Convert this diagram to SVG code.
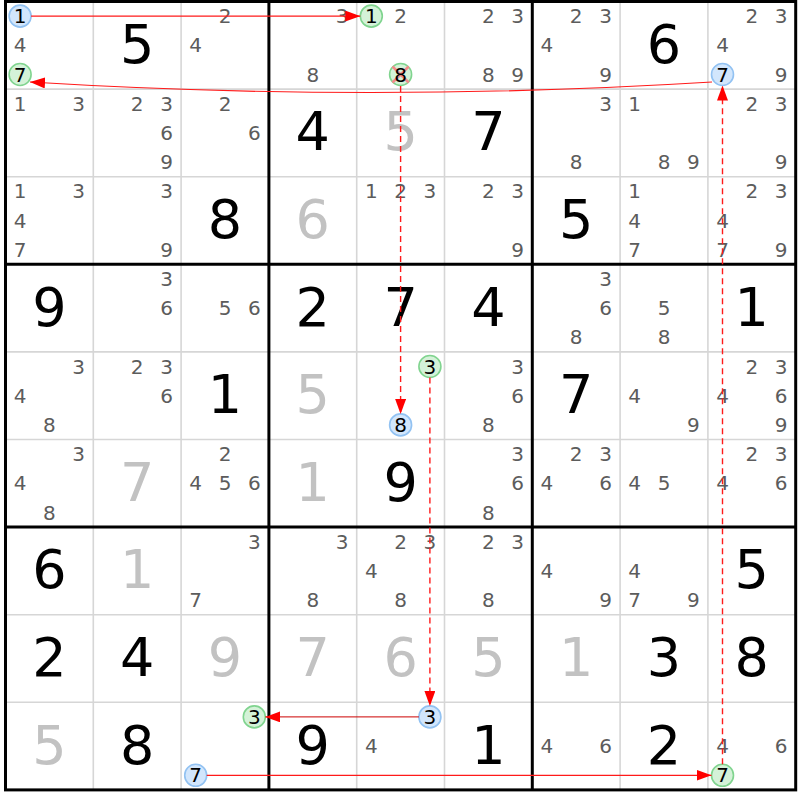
<svg xmlns="http://www.w3.org/2000/svg" width="800" height="800" viewBox="0 0 800 800">
<style>
text{font-family:"DejaVu Sans","Liberation Sans",sans-serif;text-anchor:middle}
.c{font-size:20px;fill:#5c5c5c}
.k{font-size:20px;fill:#000}
.g{font-size:54px;fill:#000}
.s{font-size:54px;fill:#c2c2c2}
.thin{stroke:#d6d6d6;stroke-width:1.6}
.thick{stroke:#000;stroke-width:3}
.hb{fill:#d2e6fc;stroke:#92c2f2;stroke-width:1.6}
.hg{fill:#d4f2d8;stroke:#80d48f;stroke-width:1.6}
.ln{stroke:#ff1a1a;stroke-width:1.2;fill:none}
.dl{stroke:#ff1a1a;stroke-width:1.4;fill:none;stroke-dasharray:6,4}
</style>
<defs>
<marker id="ah" markerUnits="userSpaceOnUse" markerWidth="15" markerHeight="11" refX="15" refY="5.5" orient="auto">
<path d="M0,0 L15,5.5 L0,11 z" fill="#ff0000"/>
</marker>
</defs>
<rect x="0" y="0" width="800" height="800" fill="#fff"/>
<g id="grid">
<line class="thin" x1="93.3" y1="1.5" x2="93.3" y2="789.9"/>
<line class="thin" x1="181.1" y1="1.5" x2="181.1" y2="789.9"/>
<line class="thin" x1="356.7" y1="1.5" x2="356.7" y2="789.9"/>
<line class="thin" x1="444.5" y1="1.5" x2="444.5" y2="789.9"/>
<line class="thin" x1="620.1" y1="1.5" x2="620.1" y2="789.9"/>
<line class="thin" x1="707.9" y1="1.5" x2="707.9" y2="789.9"/>
<line class="thin" x1="5.5" y1="89.1" x2="795.7" y2="89.1"/>
<line class="thin" x1="5.5" y1="176.7" x2="795.7" y2="176.7"/>
<line class="thin" x1="5.5" y1="351.9" x2="795.7" y2="351.9"/>
<line class="thin" x1="5.5" y1="439.5" x2="795.7" y2="439.5"/>
<line class="thin" x1="5.5" y1="614.7" x2="795.7" y2="614.7"/>
<line class="thin" x1="5.5" y1="702.3" x2="795.7" y2="702.3"/>
<line class="thick" x1="268.9" y1="1.5" x2="268.9" y2="789.9"/>
<line class="thick" x1="532.3" y1="1.5" x2="532.3" y2="789.9"/>
<line class="thick" x1="5.5" y1="264.3" x2="795.7" y2="264.3"/>
<line class="thick" x1="5.5" y1="527.1" x2="795.7" y2="527.1"/>
<rect class="thick" x="5.5" y="1.5" width="790.2" height="788.4" fill="none"/>
</g>
<!-- Row 1 -->
<g id="r1c1"><circle class="hb" cx="20.1" cy="16.1" r="11"/><circle class="hg" cx="20.1" cy="74.5" r="11"/><text class="k" x="20.1" y="23.1">1</text><text class="c" x="20.1" y="52.3">4</text><text class="k" x="20.1" y="81.5">7</text></g>
<g id="r1c2"><text class="g" x="137.2" y="62.8">5</text></g>
<g id="r1c3"><text class="c" x="225" y="23.1">2</text><text class="c" x="195.7" y="52.3">4</text></g>
<g id="r1c4"><text class="c" x="342.1" y="23.1">3</text><text class="c" x="312.8" y="81.5">8</text></g>
<g id="r1c5"><circle class="hg" cx="371.3" cy="16.1" r="11"/><circle class="hg" cx="400.6" cy="74.5" r="11"/><path d="M392.5,66.5 L408.7,82.5 M408.7,66.5 L392.5,82.5" stroke="#f28a8a" stroke-width="2.5"/><text class="k" x="371.3" y="23.1">1</text><text class="c" x="400.6" y="23.1">2</text><text class="k" x="400.6" y="81.5">8</text></g>
<g id="r1c6"><text class="c" x="488.4" y="23.1">2</text><text class="c" x="517.7" y="23.1">3</text><text class="c" x="488.4" y="81.5">8</text><text class="c" x="517.7" y="81.5">9</text></g>
<g id="r1c7"><text class="c" x="576.2" y="23.1">2</text><text class="c" x="605.5" y="23.1">3</text><text class="c" x="546.9" y="52.3">4</text><text class="c" x="605.5" y="81.5">9</text></g>
<g id="r1c8"><text class="g" x="664" y="62.8">6</text></g>
<g id="r1c9"><circle class="hb" cx="722.5" cy="74.5" r="11"/><text class="c" x="751.8" y="23.1">2</text><text class="c" x="781.1" y="23.1">3</text><text class="c" x="722.5" y="52.3">4</text><text class="k" x="722.5" y="81.5">7</text><text class="c" x="781.1" y="81.5">9</text></g>
<!-- Row 2 -->
<g id="r2c1"><text class="c" x="20.1" y="110.7">1</text><text class="c" x="78.7" y="110.7">3</text></g>
<g id="r2c2"><text class="c" x="137.2" y="110.7">2</text><text class="c" x="166.5" y="110.7">3</text><text class="c" x="166.5" y="139.9">6</text><text class="c" x="166.5" y="169.1">9</text></g>
<g id="r2c3"><text class="c" x="225" y="110.7">2</text><text class="c" x="254.3" y="139.9">6</text></g>
<g id="r2c4"><text class="g" x="312.8" y="150.4">4</text></g>
<g id="r2c5"><text class="s" x="400.6" y="150.4">5</text></g>
<g id="r2c6"><text class="g" x="488.4" y="150.4">7</text></g>
<g id="r2c7"><text class="c" x="605.5" y="110.7">3</text><text class="c" x="576.2" y="169.1">8</text></g>
<g id="r2c8"><text class="c" x="634.7" y="110.7">1</text><text class="c" x="664" y="169.1">8</text><text class="c" x="693.3" y="169.1">9</text></g>
<g id="r2c9"><text class="c" x="751.8" y="110.7">2</text><text class="c" x="781.1" y="110.7">3</text><text class="c" x="781.1" y="169.1">9</text></g>
<!-- Row 3 -->
<g id="r3c1"><text class="c" x="20.1" y="198.3">1</text><text class="c" x="78.7" y="198.3">3</text><text class="c" x="20.1" y="227.5">4</text><text class="c" x="20.1" y="256.7">7</text></g>
<g id="r3c2"><text class="c" x="166.5" y="198.3">3</text><text class="c" x="166.5" y="256.7">9</text></g>
<g id="r3c3"><text class="g" x="225" y="238">8</text></g>
<g id="r3c4"><text class="s" x="312.8" y="238">6</text></g>
<g id="r3c5"><text class="c" x="371.3" y="198.3">1</text><text class="c" x="400.6" y="198.3">2</text><text class="c" x="429.9" y="198.3">3</text></g>
<g id="r3c6"><text class="c" x="488.4" y="198.3">2</text><text class="c" x="517.7" y="198.3">3</text><text class="c" x="517.7" y="256.7">9</text></g>
<g id="r3c7"><text class="g" x="576.2" y="238">5</text></g>
<g id="r3c8"><text class="c" x="634.7" y="198.3">1</text><text class="c" x="634.7" y="227.5">4</text><text class="c" x="634.7" y="256.7">7</text></g>
<g id="r3c9"><text class="c" x="751.8" y="198.3">2</text><text class="c" x="781.1" y="198.3">3</text><text class="c" x="722.5" y="227.5">4</text><text class="c" x="722.5" y="256.7">7</text><text class="c" x="781.1" y="256.7">9</text></g>
<!-- Row 4 -->
<g id="r4c1"><text class="g" x="49.4" y="325.6">9</text></g>
<g id="r4c2"><text class="c" x="166.5" y="285.9">3</text><text class="c" x="166.5" y="315.1">6</text></g>
<g id="r4c3"><text class="c" x="225" y="315.1">5</text><text class="c" x="254.3" y="315.1">6</text></g>
<g id="r4c4"><text class="g" x="312.8" y="325.6">2</text></g>
<g id="r4c5"><text class="g" x="400.6" y="325.6">7</text></g>
<g id="r4c6"><text class="g" x="488.4" y="325.6">4</text></g>
<g id="r4c7"><text class="c" x="605.5" y="285.9">3</text><text class="c" x="605.5" y="315.1">6</text><text class="c" x="576.2" y="344.3">8</text></g>
<g id="r4c8"><text class="c" x="664" y="315.1">5</text><text class="c" x="664" y="344.3">8</text></g>
<g id="r4c9"><text class="g" x="751.8" y="325.6">1</text></g>
<!-- Row 5 -->
<g id="r5c1"><text class="c" x="78.7" y="373.5">3</text><text class="c" x="20.1" y="402.7">4</text><text class="c" x="49.4" y="431.9">8</text></g>
<g id="r5c2"><text class="c" x="137.2" y="373.5">2</text><text class="c" x="166.5" y="373.5">3</text><text class="c" x="166.5" y="402.7">6</text></g>
<g id="r5c3"><text class="g" x="225" y="413.2">1</text></g>
<g id="r5c4"><text class="s" x="312.8" y="413.2">5</text></g>
<g id="r5c5"><circle class="hg" cx="429.9" cy="366.5" r="11"/><circle class="hb" cx="400.6" cy="424.9" r="11"/><text class="k" x="429.9" y="373.5">3</text><text class="k" x="400.6" y="431.9">8</text></g>
<g id="r5c6"><text class="c" x="517.7" y="373.5">3</text><text class="c" x="517.7" y="402.7">6</text><text class="c" x="488.4" y="431.9">8</text></g>
<g id="r5c7"><text class="g" x="576.2" y="413.2">7</text></g>
<g id="r5c8"><text class="c" x="634.7" y="402.7">4</text><text class="c" x="693.3" y="431.9">9</text></g>
<g id="r5c9"><text class="c" x="751.8" y="373.5">2</text><text class="c" x="781.1" y="373.5">3</text><text class="c" x="722.5" y="402.7">4</text><text class="c" x="781.1" y="402.7">6</text><text class="c" x="781.1" y="431.9">9</text></g>
<!-- Row 6 -->
<g id="r6c1"><text class="c" x="78.7" y="461.1">3</text><text class="c" x="20.1" y="490.3">4</text><text class="c" x="49.4" y="519.5">8</text></g>
<g id="r6c2"><text class="s" x="137.2" y="500.8">7</text></g>
<g id="r6c3"><text class="c" x="225" y="461.1">2</text><text class="c" x="195.7" y="490.3">4</text><text class="c" x="225" y="490.3">5</text><text class="c" x="254.3" y="490.3">6</text></g>
<g id="r6c4"><text class="s" x="312.8" y="500.8">1</text></g>
<g id="r6c5"><text class="g" x="400.6" y="500.8">9</text></g>
<g id="r6c6"><text class="c" x="517.7" y="461.1">3</text><text class="c" x="517.7" y="490.3">6</text><text class="c" x="488.4" y="519.5">8</text></g>
<g id="r6c7"><text class="c" x="576.2" y="461.1">2</text><text class="c" x="605.5" y="461.1">3</text><text class="c" x="546.9" y="490.3">4</text><text class="c" x="605.5" y="490.3">6</text></g>
<g id="r6c8"><text class="c" x="634.7" y="490.3">4</text><text class="c" x="664" y="490.3">5</text></g>
<g id="r6c9"><text class="c" x="751.8" y="461.1">2</text><text class="c" x="781.1" y="461.1">3</text><text class="c" x="722.5" y="490.3">4</text><text class="c" x="781.1" y="490.3">6</text></g>
<!-- Row 7 -->
<g id="r7c1"><text class="g" x="49.4" y="588.4">6</text></g>
<g id="r7c2"><text class="s" x="137.2" y="588.4">1</text></g>
<g id="r7c3"><text class="c" x="254.3" y="548.7">3</text><text class="c" x="195.7" y="607.1">7</text></g>
<g id="r7c4"><text class="c" x="342.1" y="548.7">3</text><text class="c" x="312.8" y="607.1">8</text></g>
<g id="r7c5"><text class="c" x="400.6" y="548.7">2</text><text class="c" x="429.9" y="548.7">3</text><text class="c" x="371.3" y="577.9">4</text><text class="c" x="400.6" y="607.1">8</text></g>
<g id="r7c6"><text class="c" x="488.4" y="548.7">2</text><text class="c" x="517.7" y="548.7">3</text><text class="c" x="488.4" y="607.1">8</text></g>
<g id="r7c7"><text class="c" x="546.9" y="577.9">4</text><text class="c" x="605.5" y="607.1">9</text></g>
<g id="r7c8"><text class="c" x="634.7" y="577.9">4</text><text class="c" x="634.7" y="607.1">7</text><text class="c" x="693.3" y="607.1">9</text></g>
<g id="r7c9"><text class="g" x="751.8" y="588.4">5</text></g>
<!-- Row 8 -->
<g id="r8c1"><text class="g" x="49.4" y="676">2</text></g>
<g id="r8c2"><text class="g" x="137.2" y="676">4</text></g>
<g id="r8c3"><text class="s" x="225" y="676">9</text></g>
<g id="r8c4"><text class="s" x="312.8" y="676">7</text></g>
<g id="r8c5"><text class="s" x="400.6" y="676">6</text></g>
<g id="r8c6"><text class="s" x="488.4" y="676">5</text></g>
<g id="r8c7"><text class="s" x="576.2" y="676">1</text></g>
<g id="r8c8"><text class="g" x="664" y="676">3</text></g>
<g id="r8c9"><text class="g" x="751.8" y="676">8</text></g>
<!-- Row 9 -->
<g id="r9c1"><text class="s" x="49.4" y="763.6">5</text></g>
<g id="r9c2"><text class="g" x="137.2" y="763.6">8</text></g>
<g id="r9c3"><circle class="hg" cx="254.3" cy="716.9" r="11"/><circle class="hb" cx="195.7" cy="775.3" r="11"/><text class="k" x="254.3" y="723.9">3</text><text class="k" x="195.7" y="782.3">7</text></g>
<g id="r9c4"><text class="g" x="312.8" y="763.6">9</text></g>
<g id="r9c5"><circle class="hb" cx="429.9" cy="716.9" r="11"/><text class="k" x="429.9" y="723.9">3</text><text class="c" x="371.3" y="753.1">4</text></g>
<g id="r9c6"><text class="g" x="488.4" y="763.6">1</text></g>
<g id="r9c7"><text class="c" x="546.9" y="753.1">4</text><text class="c" x="605.5" y="753.1">6</text></g>
<g id="r9c8"><text class="g" x="664" y="763.6">2</text></g>
<g id="r9c9"><circle class="hg" cx="722.5" cy="775.3" r="11"/><text class="c" x="722.5" y="753.1">4</text><text class="c" x="781.1" y="753.1">6</text><text class="k" x="722.5" y="782.3">7</text></g>
<g id="connectors">
<line class="ln" x1="31.1" y1="16.1" x2="360.3" y2="16.1" marker-end="url(#ah)"/>
<path class="ln" d="M712,82 Q371,103 30,82" marker-end="url(#ah)"/>
<line class="dl" x1="400.6" y1="86" x2="400.6" y2="413.9" marker-end="url(#ah)"/>
<line class="dl" x1="429.9" y1="377.5" x2="429.9" y2="705.9" marker-end="url(#ah)"/>
<line x1="418.9" y1="716.9" x2="265.3" y2="716.9" stroke="#cc0000" stroke-width="1" marker-end="url(#ah)"/>
<line class="ln" x1="206.7" y1="775.3" x2="711.5" y2="775.3" stroke="#ff6060" marker-end="url(#ah)"/>
<line class="dl" x1="722.5" y1="764.3" x2="722.5" y2="85.5" marker-end="url(#ah)"/>
</g>
</svg>
